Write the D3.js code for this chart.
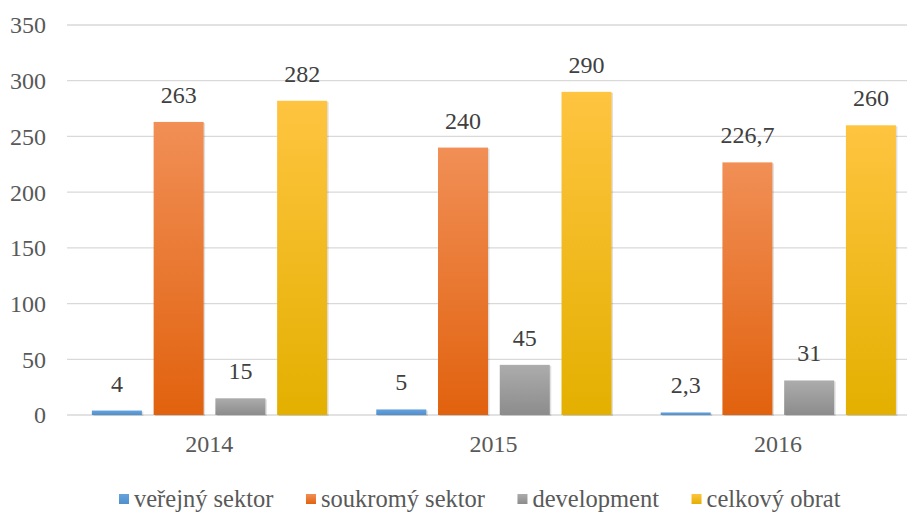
<!DOCTYPE html>
<html>
<head>
<meta charset="utf-8">
<script src="https://cdn.jsdelivr.net/npm/d3@7"></script>
</head>
<body style="margin:0">
<script>
const years = ['2014', '2015', '2016']
const seriesNames = ['veřejný sektor', 'soukromý sektor', 'development', 'celkový obrat']
const verejny = [4, 5, 2.3]
const soukromy = [263, 240, 226.7]
const development = [15, 45, 31]
const celkovy = [282, 290, 260]
const yTicks = [0, 50, 100, 150, 200, 250, 300, 350]

const seriesValues = [verejny, soukromy, development, celkovy]
const gradients = [
    ['#65a3dc', '#4f8fcc'],
    ['#f18f56', '#e1620e'],
    ['#acacac', '#8c8c8c'],
    ['#ffc440', '#e3b000']
]

const w = 907
const h = 512
const left = 67
const step = 284.4
const font = '"Liberation Serif"'

const svg = d3.select('body')
    .append('svg')
    .attr('width', w)
    .attr('height', h)
    .style('display', 'block')

const defs = svg.append('defs')
gradients.forEach((g, i) => {
    const lg = defs.append('linearGradient')
        .attr('id', 'grad' + i)
        .attr('x1', 0).attr('y1', 0).attr('x2', 0).attr('y2', 1)
    lg.append('stop').attr('offset', '0%').attr('stop-color', g[0])
    lg.append('stop').attr('offset', '100%').attr('stop-color', g[1])
})

const x0 = d3.scaleBand()
    .domain(years)
    .range([left, left + step * years.length])

const x1 = d3.scaleBand()
    .domain(seriesNames)
    .range([19, step - 18.4])
    .paddingInner(0.19)
    .paddingOuter(0.095)

const y = d3.scaleLinear()
    .domain([0, 350])
    .range([415, 25])

// gridlines
svg.append('g')
    .selectAll('line')
    .data(yTicks)
    .enter()
    .append('line')
    .attr('x1', left)
    .attr('x2', w)
    .attr('y1', d => y(d))
    .attr('y2', d => y(d))
    .attr('stroke', '#d9d9d9')
    .attr('stroke-width', 1.3)

// y labels
svg.append('g')
    .selectAll('text')
    .data(yTicks)
    .enter()
    .append('text')
    .attr('x', 46)
    .attr('y', d => y(d))
    .attr('dy', '0.35em')
    .attr('text-anchor', 'end')
    .style('font-family', font)
    .attr('font-size', 24)
    .attr('fill', '#595959')
    .text(d => d)

// bars, with a soft offset copy behind each one as shadow
const groups = svg.append('g')
    .selectAll('g')
    .data(years)
    .enter()
    .append('g')
    .attr('transform', d => `translate(${x0(d)},0)`)

const rows = (d, yi) => seriesNames.map((s, si) => ({ s, si, v: seriesValues[si][yi] }))

groups.selectAll('rect.shadow')
    .data(rows)
    .enter()
    .append('rect')
    .attr('class', 'shadow')
    .attr('x', d => x1(d.s) + 1.5)
    .attr('width', x1.bandwidth())
    .attr('y', d => y(d.v) + 1)
    .attr('height', d => y(0) - y(d.v))
    .attr('fill', '#000')
    .attr('opacity', 0.12)

groups.selectAll('rect.bar')
    .data(rows)
    .enter()
    .append('rect')
    .attr('class', 'bar')
    .attr('x', d => x1(d.s))
    .attr('width', x1.bandwidth())
    .attr('y', d => y(d.v))
    .attr('height', d => y(0) - y(d.v))
    .attr('fill', d => `url(#grad${d.si})`)

groups.selectAll('text')
    .data(rows)
    .enter()
    .append('text')
    .attr('x', d => x1(d.s) + x1.bandwidth() / 2)
    .attr('y', d => y(d.v) - 19)
    .attr('text-anchor', 'middle')
    .style('font-family', font)
    .attr('font-size', 24)
    .attr('fill', '#404040')
    .text(d => String(d.v).replace('.', ','))

// year labels
svg.append('g')
    .selectAll('text')
    .data(years)
    .enter()
    .append('text')
    .attr('x', d => x0(d) + step / 2)
    .attr('y', 452)
    .attr('text-anchor', 'middle')
    .style('font-family', font)
    .attr('font-size', 24)
    .attr('fill', '#595959')
    .text(d => d)

// legend
const legend = svg.append('g')
let lx = 119
seriesNames.forEach((s, i) => {
    legend.append('rect')
        .attr('x', lx)
        .attr('y', 494)
        .attr('width', 10)
        .attr('height', 10)
        .attr('fill', `url(#grad${i})`)
    const t = legend.append('text')
        .attr('x', lx + 15)
        .attr('y', 507)
        .style('font-family', font)
        .attr('font-size', 24.5)
        .attr('fill', '#595959')
        .text(s)
    lx += 15 + t.node().getComputedTextLength() + 32.5
})
</script>
</body>
</html>
